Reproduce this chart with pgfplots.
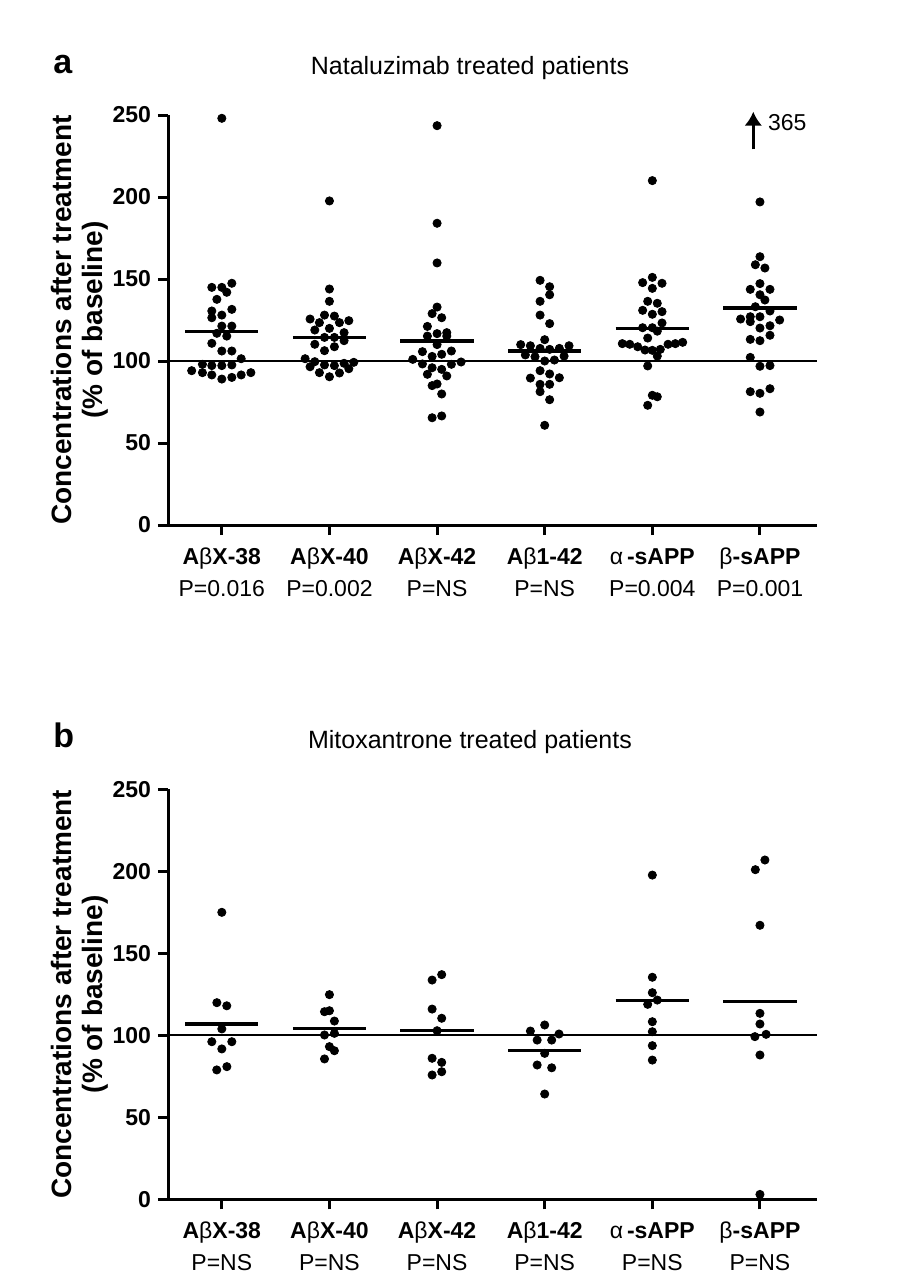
\documentclass[border=0pt]{standalone}
\usepackage{pgfplots}
\pgfplotsset{compat=1.18}
\usepackage{fontspec}
\setmainfont{Liberation Sans}
\usetikzlibrary{arrows.meta}

\pgfplotsset{myax/.style={
  scale only axis, width=324.5pt, height=205pt,
  xmin=-0.5, xmax=5.53, ymin=0, ymax=250,
  axis x line*=bottom, axis y line*=left,
  axis line style={-, line width=1.5pt},
  every tick/.style={line width=1.5pt, black},
  tick align=outside, major tick length=5pt,
  ytick={0,50,100,150,200,250}, xtick={0,1,2,3,4,5},
  clip=false,
  /pgf/number format/assume math mode=true,
  yticklabel style={font=\fontsize{11.5}{13}\selectfont\bfseries},
  xticklabel style={align=center, font=\fontsize{11.5}{16}\selectfont, anchor=north, yshift=0pt},
  dots/.style={only marks, mark=*, mark size=2.05pt, black},
  meanl/.style={black, line width=1.7pt},
}}
\newcommand{\lab}[2]{\strut\textbf{#1}\\#2}

\begin{document}
\begin{tikzpicture}
\useasboundingbox (0,0) rectangle (450.5pt,-638pt);

% ---------------- Panel a ----------------
\begin{axis}[myax, at={(84pt,-262.5pt)}, anchor=south west,
  xticklabels={{\lab{A\textmd{β}X-38}{P=0.016}},{\lab{A\textmd{β}X-40}{P=0.002}},{\lab{A\textmd{β}X-42}{P=NS}},{\lab{A\textmd{β}1-42}{P=NS}},{\lab{\textmd{α}\,-sAPP}{P=0.004}},{\lab{\textmd{β}-sAPP}{P=0.001}}}]
\addplot[black, line width=1pt] coordinates {(-0.5,100) (5.53,100)};
\addplot[dots] table {
0.000 248.0
-0.093 144.9
0.000 144.9
0.093 147.4
0.046 141.9
-0.046 137.6
-0.093 130.5
0.093 131.5
0.000 128.0
-0.093 126.4
0.000 121.3
0.093 121.3
-0.046 116.9
0.046 115.2
-0.093 110.8
0.000 106.1
0.093 106.1
0.180 101.4
-0.180 98.0
-0.093 97.2
0.000 97.2
0.093 97.6
-0.280 94.1
-0.180 92.9
-0.093 91.5
0.000 89.0
0.093 90.0
0.180 91.5
0.270 92.9
};
\addplot[dots] table {
1.000 197.6
1.000 143.9
1.000 136.4
0.954 128.0
1.046 127.4
0.820 125.6
1.180 124.6
0.907 123.4
1.093 123.4
1.000 119.9
0.864 118.9
1.136 117.3
0.954 114.4
1.046 114.4
1.136 112.4
0.864 110.2
1.046 108.7
0.954 106.3
0.774 101.4
0.864 99.6
1.226 99.2
1.136 98.6
0.820 96.5
0.954 97.6
1.046 97.2
1.180 95.3
0.907 92.9
1.093 92.7
1.000 90.4
};
\addplot[dots] table {
2.000 243.5
2.000 184.0
2.000 159.8
2.000 132.9
1.954 128.9
2.043 126.4
1.910 121.1
2.000 116.7
2.090 117.3
1.910 115.2
2.090 115.2
2.000 110.0
1.864 105.7
2.133 106.1
1.954 102.8
2.043 104.1
1.774 101.0
1.864 98.2
2.133 98.0
2.223 99.4
1.954 95.9
2.043 94.9
1.910 91.9
2.090 90.9
1.954 85.0
2.000 86.0
2.043 79.9
1.954 65.4
2.043 66.5
};
\addplot[dots] table {
2.957 149.2
3.046 145.3
3.046 140.4
2.957 136.4
2.957 128.0
3.046 122.8
3.000 113.0
2.777 110.0
2.867 109.3
3.226 109.3
2.957 107.7
3.046 107.1
3.136 107.7
2.820 103.7
2.910 102.6
3.180 103.0
3.000 100.0
3.090 100.6
2.957 94.1
3.046 92.1
2.867 89.6
3.136 89.8
2.957 85.8
3.046 85.8
2.957 81.3
3.046 76.4
3.000 60.8
};
\addplot[dots] table {
4.000 210.0
4.000 151.0
3.910 147.8
4.090 147.4
4.000 144.3
3.957 136.4
4.046 135.2
3.910 130.9
4.090 130.1
4.000 128.5
4.090 123.2
3.910 120.3
4.000 120.3
4.046 118.2
3.957 114.0
3.721 110.6
3.790 110.2
3.864 108.7
3.932 106.7
4.000 106.5
4.074 107.1
4.146 110.2
4.214 110.6
4.282 111.4
4.046 103.0
3.957 97.0
4.000 79.1
4.046 78.2
3.957 73.0
};
\addplot[dots] table {
5.000 197.0
5.000 163.6
4.957 158.7
5.046 156.7
5.000 147.2
4.910 143.7
5.093 143.7
5.000 140.4
5.046 137.2
4.957 133.1
5.093 130.5
4.820 125.6
4.910 127.0
5.000 127.0
4.910 124.0
5.183 125.0
5.000 120.1
5.093 121.5
5.093 115.7
4.910 113.2
5.000 112.4
4.910 102.2
5.000 96.8
5.093 97.2
4.910 81.3
5.000 80.3
5.093 83.1
5.000 68.9
};
\addplot[meanl] coordinates {(-0.34,118.0) (0.34,118.0)};
\addplot[meanl] coordinates {(0.66,114.4) (1.34,114.4)};
\addplot[meanl] coordinates {(1.66,112.2) (2.34,112.2)};
\addplot[meanl] coordinates {(2.66,106.1) (3.34,106.1)};
\addplot[meanl] coordinates {(3.66,119.7) (4.34,119.7)};
\addplot[meanl] coordinates {(4.66,132.3) (5.34,132.3)};
\addplot[black, line width=1.6pt, -{Latex[length=7pt,width=9pt]}] coordinates {(4.938,229) (4.938,252)};
\node[anchor=west, font=\fontsize{11.5}{13}\selectfont, inner sep=0pt] at (axis cs:5.072,245.1) {365};
\end{axis}

% ---------------- Panel b ----------------
\begin{axis}[myax, at={(84pt,-599.65pt)}, anchor=south west,
  xticklabels={{\lab{A\textmd{β}X-38}{P=NS}},{\lab{A\textmd{β}X-40}{P=NS}},{\lab{A\textmd{β}X-42}{P=NS}},{\lab{A\textmd{β}1-42}{P=NS}},{\lab{\textmd{α}\,-sAPP}{P=NS}},{\lab{\textmd{β}-sAPP}{P=NS}}}]
\addplot[black, line width=1pt] coordinates {(-0.5,100) (5.53,100)};
\addplot[dots] table {
0.000 175.0
-0.046 119.9
0.046 118.0
0.000 103.9
-0.093 96.1
0.093 96.1
0.000 91.7
-0.047 78.9
0.047 80.9
};
\addplot[dots] table {
1.000 124.8
0.954 114.4
1.000 115.0
1.046 108.7
0.954 100.2
1.046 101.2
1.000 93.1
1.046 90.6
0.954 85.6
};
\addplot[dots] table {
2.043 137.0
1.954 133.7
1.954 116.0
2.043 110.4
2.000 102.8
1.954 86.0
2.043 83.5
1.954 75.8
2.043 77.8
};
\addplot[dots] table {
3.000 106.3
2.867 102.6
3.133 100.8
2.930 97.1
3.065 97.1
3.000 89.0
2.930 81.9
3.065 80.2
3.000 64.2
};
\addplot[dots] table {
4.000 197.7
4.000 135.4
4.000 126.0
4.046 121.5
3.957 118.9
4.000 108.3
4.000 102.2
4.000 93.7
4.000 84.9
};
\addplot[dots] table {
5.046 206.9
4.957 201.0
5.000 167.1
5.000 113.4
5.000 106.9
4.953 99.2
5.057 100.6
5.000 88.0
5.000 3.0
};
\addplot[meanl] coordinates {(-0.34,106.9) (0.34,106.9)};
\addplot[meanl] coordinates {(0.66,104.0) (1.34,104.0)};
\addplot[meanl] coordinates {(1.66,102.8) (2.34,102.8)};
\addplot[meanl] coordinates {(2.66,90.6) (3.34,90.6)};
\addplot[meanl] coordinates {(3.66,121.1) (4.34,121.1)};
\addplot[meanl] coordinates {(4.66,120.5) (5.34,120.5)};
\end{axis}

% titles, panel letters, y labels
\node[font=\fontsize{17}{20}\selectfont\bfseries, anchor=base west, inner sep=0pt] at (26.5pt,-36.5pt) {a};
\node[font=\fontsize{12.5}{15}\selectfont, anchor=base, inner sep=0pt] at (235pt,-37pt) {Nataluzimab treated patients};
\node[rotate=90, align=center, font=\fontsize{14}{15.5}\selectfont\bfseries] at (40pt,-160pt) {Concentrations after treatment\\(\%  of baseline)};

\node[font=\fontsize{17}{20}\selectfont\bfseries, anchor=base west, inner sep=0pt] at (26.5pt,-373.65pt) {b};
\node[font=\fontsize{12.5}{15}\selectfont, anchor=base, inner sep=0pt] at (235pt,-374.15pt) {Mitoxantrone treated patients};
\node[rotate=90, align=center, font=\fontsize{14}{15.5}\selectfont\bfseries] at (40pt,-497.15pt) {Concentrations after treatment\\(\%  of baseline)};
\end{tikzpicture}
\end{document}
